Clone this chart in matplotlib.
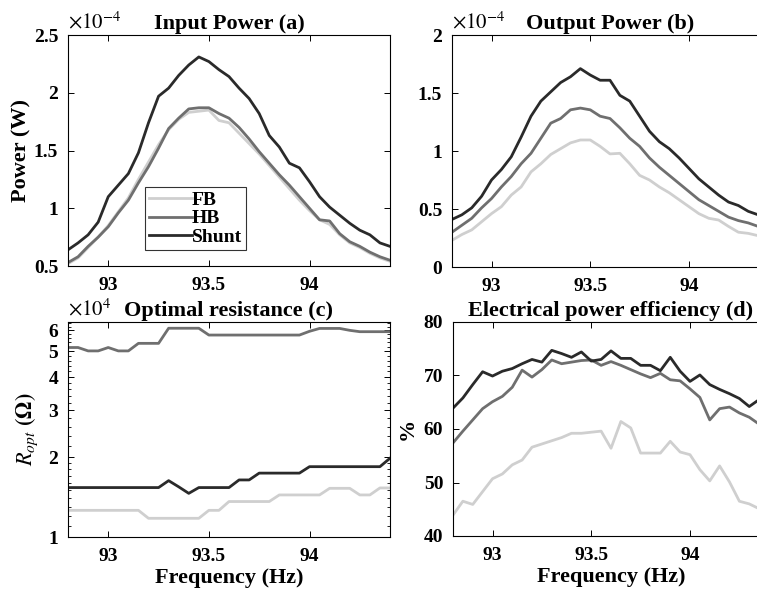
import numpy as np
import matplotlib
matplotlib.use("Agg")
import matplotlib.pyplot as plt
from matplotlib.ticker import FixedLocator, NullFormatter

plt.rcParams['font.family'] = ['Liberation Serif', 'DejaVu Serif']
plt.rcParams['mathtext.fontset'] = 'stix'

# frequency axis (Hz)
freq = [92.80, 92.85, 92.90, 92.95, 93.00, 93.05, 93.10, 93.15, 93.20, 93.25, 93.30,
        93.35, 93.40, 93.45, 93.50, 93.55, 93.60, 93.65, 93.70, 93.75, 93.80, 93.85,
        93.90, 93.95, 94.00, 94.05, 94.10, 94.15, 94.20, 94.25, 94.30, 94.35, 94.40]

# (a) input power, x1e-4 W
pin_fb = [0.52, 0.57, 0.66, 0.75, 0.85, 0.97, 1.09, 1.25, 1.40, 1.55, 1.68, 1.77, 1.83, 1.84, 1.85, 1.76, 1.74,
          1.65, 1.56, 1.47, 1.37, 1.27, 1.17, 1.07, 0.98, 0.90, 0.86, 0.77, 0.70, 0.66, 0.61, 0.57, 0.54]
pin_hb = [0.53, 0.58, 0.67, 0.75, 0.84, 0.96, 1.07, 1.22, 1.36, 1.52, 1.69, 1.78, 1.86, 1.87, 1.87, 1.82, 1.78,
          1.70, 1.60, 1.49, 1.39, 1.29, 1.20, 1.10, 1.00, 0.90, 0.89, 0.78, 0.71, 0.67, 0.62, 0.58, 0.55]
pin_sh = [0.64, 0.70, 0.77, 0.88, 1.10, 1.20, 1.30, 1.48, 1.74, 1.97, 2.04, 2.15, 2.24, 2.31, 2.27, 2.20, 2.14,
          2.04, 1.95, 1.82, 1.63, 1.53, 1.39, 1.35, 1.23, 1.10, 1.01, 0.94, 0.87, 0.81, 0.77, 0.70, 0.67]

# (b) output power, x1e-4 W
pout_fb = [0.23, 0.28, 0.32, 0.39, 0.46, 0.52, 0.62, 0.69, 0.82, 0.89, 0.97, 1.02, 1.07, 1.095, 1.095, 1.04, 0.975,
           0.98, 0.89, 0.79, 0.75, 0.69, 0.64, 0.58, 0.52, 0.46, 0.42, 0.405, 0.35, 0.30, 0.29, 0.27, 0.25]
pout_hb = [0.30, 0.36, 0.42, 0.51, 0.59, 0.69, 0.78, 0.89, 0.98, 1.11, 1.24, 1.28, 1.355, 1.37, 1.355, 1.30, 1.28,
           1.20, 1.11, 1.04, 0.94, 0.86, 0.79, 0.72, 0.65, 0.58, 0.53, 0.48, 0.43, 0.40, 0.38, 0.35, 0.32]
pout_sh = [0.41, 0.45, 0.51, 0.61, 0.75, 0.84, 0.95, 1.12, 1.30, 1.43, 1.51, 1.59, 1.64, 1.71, 1.655, 1.61, 1.61,
           1.48, 1.43, 1.30, 1.17, 1.08, 1.02, 0.94, 0.85, 0.76, 0.69, 0.62, 0.56, 0.53, 0.48, 0.45, 0.42]

# (c) optimal resistance, x1e4 ohm
r_fb = [1.26, 1.26, 1.26, 1.26, 1.26, 1.26, 1.26, 1.26, 1.176, 1.176, 1.176, 1.176, 1.176, 1.176, 1.26, 1.26, 1.36,
        1.36, 1.36, 1.36, 1.36, 1.44, 1.44, 1.44, 1.44, 1.44, 1.525, 1.525, 1.525, 1.44, 1.44, 1.53, 1.53]
r_hb = [5.17, 5.17, 5.02, 5.02, 5.17, 5.02, 5.02, 5.36, 5.36, 5.36, 6.11, 6.11, 6.11, 6.11, 5.76, 5.76, 5.76,
        5.76, 5.76, 5.76, 5.76, 5.76, 5.76, 5.76, 5.95, 6.10, 6.10, 6.10, 6.00, 5.93, 5.93, 5.93, 5.93]
r_sh = [1.535, 1.535, 1.535, 1.535, 1.535, 1.535, 1.535, 1.535, 1.535, 1.535, 1.63, 1.545, 1.46, 1.535, 1.535, 1.535, 1.535,
        1.64, 1.64, 1.74, 1.74, 1.74, 1.74, 1.74, 1.84, 1.84, 1.84, 1.84, 1.84, 1.84, 1.84, 1.84, 1.98]

# (d) efficiency, %
eff_fb = [43.9, 46.5, 45.9, 48.3, 50.7, 51.6, 53.3, 54.2, 56.6, 57.2, 57.8, 58.4, 59.2, 59.2, 59.4, 59.6, 56.4,
          61.4, 60.2, 55.5, 55.5, 55.5, 57.7, 55.7, 55.2, 52.4, 50.3, 53.1, 50.1, 46.5, 46.0, 45.1, 44.5]
eff_hb = [57.4, 59.6, 61.7, 63.8, 65.1, 66.1, 67.8, 71.0, 69.7, 71.1, 72.9, 72.2, 72.5, 72.8, 72.9, 71.9, 72.6,
          71.9, 71.1, 70.3, 69.6, 70.4, 69.2, 69.0, 67.5, 65.9, 61.7, 63.8, 64.1, 63.0, 62.2, 60.9, 59.9]
eff_sh = [63.9, 65.8, 68.3, 70.7, 69.9, 70.8, 71.3, 72.2, 73.0, 72.5, 74.7, 74.1, 73.4, 74.4, 72.7, 73.0, 74.6,
          73.2, 73.2, 71.9, 71.9, 70.9, 73.4, 70.8, 68.9, 70.1, 68.3, 67.4, 66.6, 65.7, 64.2, 65.5, 66.5]

labels = ["FB", "HB", "Shunt"]
colors = ["#cfcfcf", "#6f6f6f", "#2a2a2a"]
lw = 2.0

fig = plt.figure(figsize=(7.57, 5.91), dpi=100)
W, H = 757, 591

def add_ax(left, top, width, height):
    return fig.add_axes([left / W, (H - top - height) / H, width / W, height / H])

ax_a = add_ax(68, 35, 322, 231)
ax_b = add_ax(452, 35, 316, 232)
ax_c = add_ax(68, 322, 322, 215)
ax_d = add_ax(453, 322, 316, 214)

def style(ax):
    ax.set_xlim(92.8, 94.4)
    ax.set_xticks([93, 93.5, 94])
    ax.set_xticklabels(["93", "93.5", "94"])
    ax.tick_params(direction="in", top=True, right=True, labelsize=14, length=4, width=0.7)
    ax.tick_params(axis="x", pad=8)
    ax.tick_params(axis="y", pad=7)
    ax.tick_params(which="minor", direction="in", right=True, left=True, length=2, width=0.6)
    for s in ax.spines.values():
        s.set_linewidth(0.8)

def bold_ticks(ax):
    for t in ax.get_xticklabels() + ax.get_yticklabels():
        t.set_fontweight("bold")

for ax, series in [(ax_a, (pin_fb, pin_hb, pin_sh)), (ax_b, (pout_fb, pout_hb, pout_sh)),
                   (ax_c, (r_fb, r_hb, r_sh)), (ax_d, (eff_fb, eff_hb, eff_sh))]:
    for ys, c, lab in zip(series, colors, labels):
        ax.plot(freq, ys, color=c, lw=lw, label=lab)
    style(ax)

title_kw = dict(fontsize=16, fontweight="bold", pad=4)
label_kw = dict(fontsize=16, fontweight="bold")

# (a)
ax_a.set_ylim(0.5, 2.5)
ax_a.set_yticks([0.5, 1, 1.5, 2, 2.5])
ax_a.set_yticklabels(["0.5", "1", "1.5", "2", "2.5"])
ax_a.set_ylabel("Power (W)", labelpad=2, **label_kw)
ax_a.set_title("Input Power (a)", **title_kw)
ax_a.text(0.0, 1.005, r"$\times10^{-4}$", transform=ax_a.transAxes, fontsize=15, ha="left", va="bottom")
leg = ax_a.legend(loc="lower left", bbox_to_anchor=(0.24, 0.07), prop={"size": 14, "weight": "bold"},
                  frameon=True, fancybox=False, handlelength=2.2, handletextpad=0.0, borderpad=0.2,
                  labelspacing=0.05, borderaxespad=0)
leg.get_frame().set_edgecolor("black")
leg.get_frame().set_linewidth(0.8)

# (b)
ax_b.set_ylim(0, 2)
ax_b.set_yticks([0, 0.5, 1, 1.5, 2])
ax_b.set_yticklabels(["0", "0.5", "1", "1.5", "2"])
ax_b.set_title("Output Power (b)", **title_kw)
ax_b.text(0.0, 1.005, r"$\times10^{-4}$", transform=ax_b.transAxes, fontsize=15, ha="left", va="bottom")

# (c)
ax_c.set_yscale("log")
ax_c.set_ylim(1, 6.45)
ax_c.yaxis.set_major_locator(FixedLocator([1, 2, 3, 4, 5, 6]))
ax_c.set_yticklabels(["1", "2", "3", "4", "5", "6"])
minor = [1.1, 1.2, 1.3, 1.4, 1.5, 1.6, 1.7, 1.8, 1.9] + [2.2 + 0.2 * k for k in range(22) if abs(2.2 + 0.2 * k - round(2.2 + 0.2 * k)) > 1e-6]
ax_c.yaxis.set_minor_locator(FixedLocator([m for m in minor if m < 6.45]))
ax_c.yaxis.set_minor_formatter(NullFormatter())
ax_c.set_ylabel(r"$\mathbf{\mathit{R}_{\mathit{opt}}}$ $\mathbf{(\Omega)}$", labelpad=6, **label_kw)
ax_c.set_xlabel("Frequency (Hz)", labelpad=2, **label_kw)
ax_c.set_title("Optimal resistance (c)", **title_kw)
ax_c.text(0.0, 1.005, r"$\times10^{4}$", transform=ax_c.transAxes, fontsize=15, ha="left", va="bottom")

# (d)
ax_d.set_ylim(40, 80)
ax_d.set_yticks([40, 50, 60, 70, 80])
ax_d.set_ylabel("%", labelpad=4, **label_kw)
ax_d.set_xlabel("Frequency (Hz)", labelpad=2, **label_kw)
ax_d.set_title("Electrical power efficiency (d)", **title_kw)

for ax in (ax_a, ax_b, ax_c, ax_d):
    bold_ticks(ax)

fig.savefig("out.png", dpi=100)
